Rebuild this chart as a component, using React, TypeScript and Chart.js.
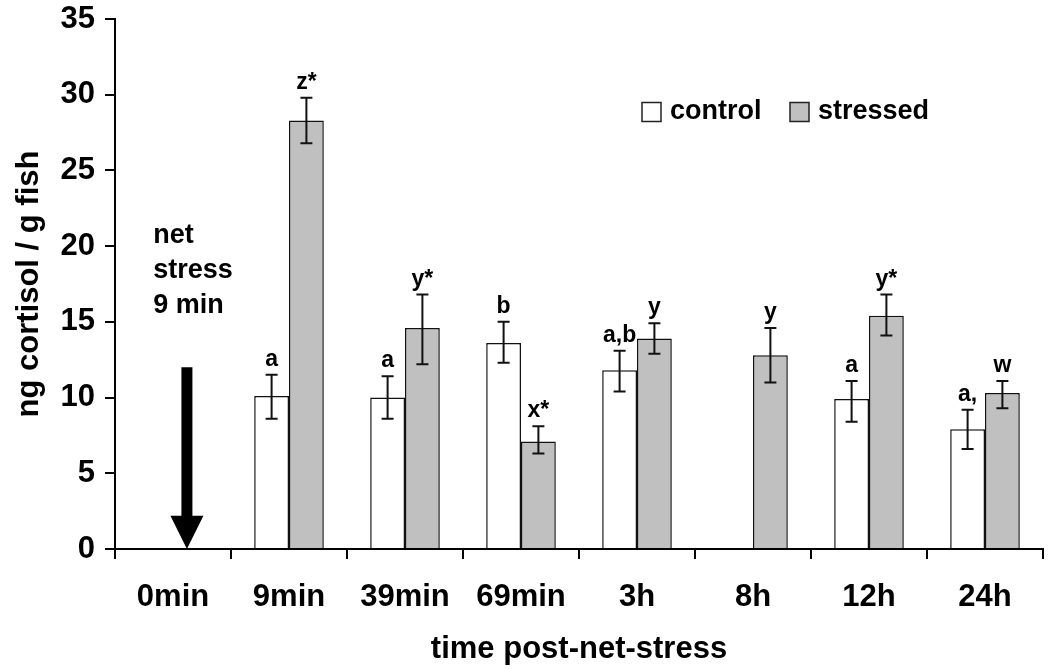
import React, { useEffect, useRef } from "react";
import { Chart, registerables } from "chart.js";

Chart.register(...registerables);

const categories = ["0min", "9min", "39min", "69min", "3h", "8h", "12h", "24h"];
const controlMean = [null, 10.1, 10.0, 13.6, 11.8, null, 9.9, 7.9];
const controlErrLow = [null, 8.6, 8.6, 12.3, 10.4, null, 8.4, 6.6];
const controlErrHigh = [null, 11.5, 11.4, 15.0, 13.1, null, 11.1, 9.2];
const stressedMean = [null, 28.3, 14.6, 7.1, 13.9, 12.8, 15.4, 10.3];
const stressedErrLow = [null, 26.8, 12.2, 6.3, 12.9, 11.0, 14.1, 9.3];
const stressedErrHigh = [null, 29.8, 16.8, 8.1, 14.9, 14.6, 16.8, 11.1];
const controlLetters = ["", "a", "a", "b", "a,b", "", "a", "a,"];
const stressedLetters = ["", "z*", "y*", "x*", "y", "y", "y*", "w"];
const yTicks = [0, 5, 10, 15, 20, 25, 30, 35];
const noteLines = ["net", "stress", "9 min"];

const FONT = '"Liberation Sans", Arial, Helvetica, sans-serif';

const overlayPlugin = {
  id: "overlay",
  afterDatasetsDraw(chart: any) {
    const ctx = chart.ctx;
    const xs = chart.scales.x;
    const ys = chart.scales.y;
    const area = chart.chartArea;
    ctx.save();

    // error bars + letters
    const groups = [
      { idx: 0, lo: controlErrLow, hi: controlErrHigh, letters: controlLetters },
      { idx: 1, lo: stressedErrLow, hi: stressedErrHigh, letters: stressedLetters },
    ];
    groups.forEach((g) => {
      const meta = chart.getDatasetMeta(g.idx);
      meta.data.forEach((bar: any, i: number) => {
        const lo = g.lo[i];
        const hi = g.hi[i];
        if (lo == null || hi == null) return;
        const x = bar.x;
        const yl = ys.getPixelForValue(lo);
        const yh = ys.getPixelForValue(hi);
        ctx.strokeStyle = "#111";
        ctx.lineWidth = 2;
        ctx.beginPath();
        ctx.moveTo(x, yl);
        ctx.lineTo(x, yh);
        ctx.moveTo(x - 6, yl);
        ctx.lineTo(x + 6, yl);
        ctx.moveTo(x - 6, yh);
        ctx.lineTo(x + 6, yh);
        ctx.stroke();
        const t = g.letters[i];
        if (t) {
          ctx.fillStyle = "#000";
          ctx.font = `bold 23px ${FONT}`;
          ctx.textAlign = "center";
          ctx.textBaseline = "alphabetic";
          ctx.fillText(t, x, yh - 9);
        }
      });
    });

    // arrow
    const ax = xs.getPixelForValue(0.12);
    const yTop = ys.getPixelForValue(12);
    const yHead = ys.getPixelForValue(2.2);
    const yTip = ys.getPixelForValue(0);
    ctx.fillStyle = "#000";
    ctx.beginPath();
    ctx.moveTo(ax - 5.5, yTop);
    ctx.lineTo(ax + 5.5, yTop);
    ctx.lineTo(ax + 5.5, yHead);
    ctx.lineTo(ax + 16.5, yHead);
    ctx.lineTo(ax, yTip);
    ctx.lineTo(ax - 16.5, yHead);
    ctx.lineTo(ax - 5.5, yHead);
    ctx.closePath();
    ctx.fill();

    // note text
    const nx = xs.getPixelForValue(-0.17);
    const noteY = [20.7, 18.4, 16.05];
    ctx.font = `bold 27px ${FONT}`;
    ctx.textAlign = "left";
    ctx.textBaseline = "middle";
    noteLines.forEach((l, i) => ctx.fillText(l, nx, ys.getPixelForValue(noteY[i])));

    // legend
    const ly = 112;
    const boxes = [
      { x: area.left + 527, fill: "#ffffff", label: "control" },
      { x: area.left + 675, fill: "#c0c0c0", label: "stressed" },
    ];
    boxes.forEach((b) => {
      ctx.fillStyle = b.fill;
      ctx.fillRect(b.x, ly - 9.5, 19, 19);
      ctx.strokeStyle = "#222";
      ctx.lineWidth = 1.5;
      ctx.strokeRect(b.x, ly - 9.5, 19, 19);
      ctx.fillStyle = "#000";
      ctx.font = `bold 27px ${FONT}`;
      ctx.textAlign = "left";
      ctx.textBaseline = "middle";
      ctx.fillText(b.label, b.x + 28, ly);
    });

    // axis titles
    ctx.fillStyle = "#000";
    ctx.font = `bold 31px ${FONT}`;
    ctx.textAlign = "center";
    ctx.textBaseline = "middle";
    ctx.fillText("time post-net-stress", (area.left + area.right) / 2, 649);
    ctx.save();
    ctx.translate(29, (area.top + area.bottom) / 2);
    ctx.rotate(-Math.PI / 2);
    ctx.fillText("ng cortisol / g fish", 0, 0);
    ctx.restore();

    ctx.restore();
  },
};

export default function App() {
  const ref = useRef<HTMLCanvasElement | null>(null);
  useEffect(() => {
    if (!ref.current) return;
    const tickFont = { family: FONT, size: 31, weight: "bold" as const };
    const chart = new Chart(ref.current, {
      type: "bar",
      data: {
        labels: categories,
        datasets: [
          {
            label: "control",
            data: controlMean as any,
            backgroundColor: "#ffffff",
            borderColor: "#111",
            borderWidth: 1.5,
            categoryPercentage: 0.6,
            barPercentage: 1.0,
          },
          {
            label: "stressed",
            data: stressedMean as any,
            backgroundColor: "#c0c0c0",
            borderColor: "#111",
            borderWidth: 1.5,
            categoryPercentage: 0.6,
            barPercentage: 1.0,
          },
        ],
      },
      options: {
        animation: false,
        responsive: true,
        maintainAspectRatio: false,
        layout: { padding: { top: 19, right: 7, left: 0, bottom: 0 } },
        plugins: { legend: { display: false }, tooltip: { enabled: false } },
        scales: {
          x: {
            grid: {
              display: true,
              drawOnChartArea: false,
              drawTicks: true,
              tickLength: 10,
              color: "#000",
              lineWidth: 2,
              offset: true,
            },
            border: { color: "#000", width: 2 },
            ticks: { font: tickFont, color: "#000", padding: 20, maxRotation: 0 },
            afterFit: (s: any) => {
              s.height = 120;
              s.paddingLeft = 0;
              s.paddingRight = 0;
            },
          },
          y: {
            min: 0,
            max: 35,
            grid: {
              drawOnChartArea: false,
              drawTicks: true,
              tickLength: 10,
              color: "#000",
              lineWidth: 2,
            },
            border: { color: "#000", width: 2 },
            ticks: { font: tickFont, color: "#000", padding: 10, stepSize: 5 },
            afterBuildTicks: (s: any) => {
              s.ticks = yTicks.map((v) => ({ value: v }));
            },
            afterFit: (s: any) => {
              s.width = 115;
              s.paddingTop = 0;
              s.paddingBottom = 0;
            },
          },
        },
      },
      plugins: [overlayPlugin],
    });
    return () => chart.destroy();
  }, []);
  return (
    <div style={{ position: "absolute", left: 0, top: 0, width: 1050, height: 669, background: "#fff" }}>
      <canvas ref={ref} />
    </div>
  );
}
